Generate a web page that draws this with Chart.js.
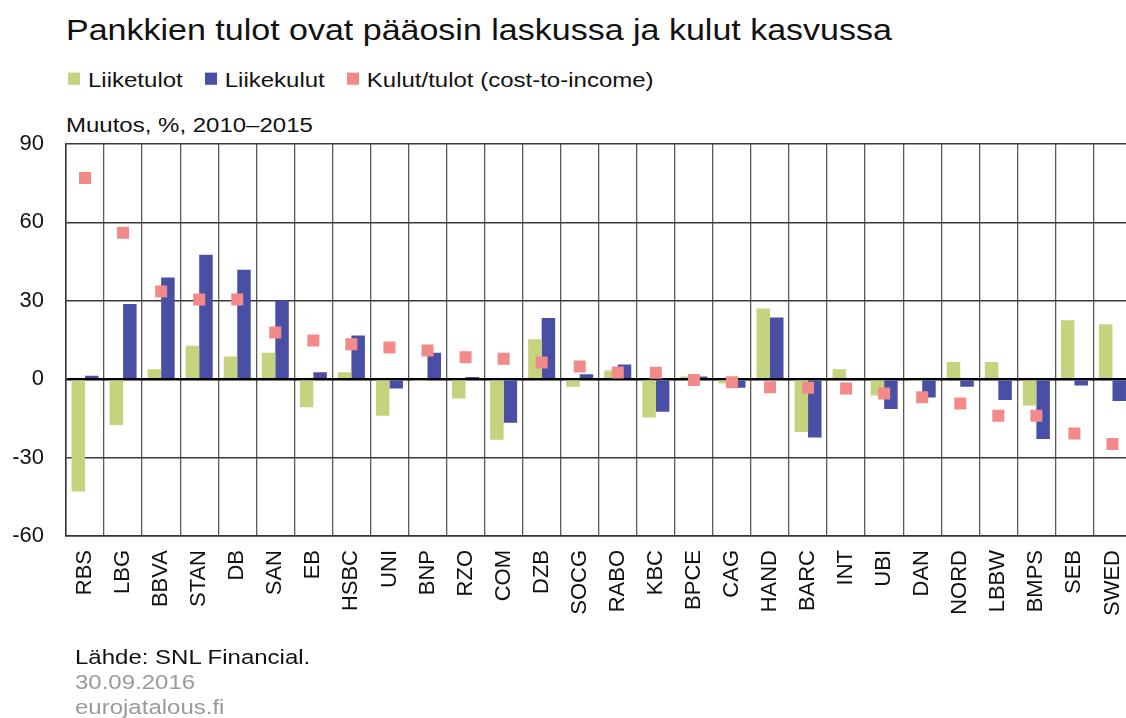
<!DOCTYPE html>
<html lang="fi">
<head>
<meta charset="utf-8">
<script src="https://cdn.jsdelivr.net/npm/chart.js@4.4.1/dist/chart.umd.min.js"></script>
<style>
  html, body { margin: 0; padding: 0; background: #fff; overflow: hidden; }
  body { width: 1126px; height: 718px; position: relative; font-family: "Liberation Sans", Arial, sans-serif; color: #111; }
  #chart { position: absolute; left: 0; top: 0; }
  .txt { position: absolute; white-space: nowrap; transform-origin: 0 0; }
  #title { left: 66px; top: 14px; font-size: 34px; line-height: 34px; transform: scaleY(0.88); }
  #legend { left: 68px; top: 70px; font-size: 24px; line-height: 24px; transform: scaleY(0.87); display: flex; align-items: flex-start; }
  #legend .item { display: flex; align-items: flex-start; margin-right: 22px; }
  #legend .box { width: 12px; height: 14px; margin-top: 3px; margin-right: 8px; }
  #unit { left: 66px; top: 115px; font-size: 24px; line-height: 24px; transform: scaleY(0.87); }
  #footer { left: 75px; top: 644px; font-size: 24px; line-height: 29px; transform: scaleY(0.87); }
  #footer .grey { color: #9a9a9a; }
</style>
</head>
<body>
<div id="title" class="txt">Pankkien tulot ovat pääosin laskussa ja kulut kasvussa</div>
<div id="legend" class="txt"></div>
<div id="unit" class="txt">Muutos, %, 2010–2015</div>
<canvas id="chart" width="1140" height="718"></canvas>
<div id="footer" class="txt">
  <div>Lähde: SNL Financial.</div>
  <div class="grey">30.09.2016</div>
  <div class="grey">eurojatalous.fi</div>
</div>

<script>
// Pankit (lyhenteet)
const banks = ["RBS", "LBG", "BBVA", "STAN", "DB", "SAN", "EB", "HSBC", "UNI", "BNP",
  "RZO", "COM", "DZB", "SOCG", "RABO", "KBC", "BPCE", "CAG", "HAND", "BARC",
  "INT", "UBI", "DAN", "NORD", "LBBW", "BMPS", "SEB", "SWED"];

// Muutos, %, 2010-2015 (luettu kuvasta)
const liiketulot = [-43, -17.5, 3.8, 12.8, 8.7, 10.1, -10.7, 2.7, -14, -0.7,
  -7.4, -23.2, 15.3, -2.9, 3.3, -14.7, 1, -1.6, 27.1, -20.2,
  3.8, -6.2, -0.3, 6.6, 6.6, -10.1, 22.6, 21];
const liikekulut = [1.3, 28.8, 38.9, 47.6, 41.9, 30.1, 2.7, 16.7, -3.6, 10.1,
  0.8, -16.7, 23.4, 1.9, 5.6, -12.5, 1, -3.3, 23.6, -22.3,
  0.5, -11.4, -7, -2.9, -8, -22.9, -2.4, -8.3];
const kulutTulot = [77, 56, 33.6, 30.5, 30.5, 17.9, 14.8, 13.4, 12.1, 11,
  8.4, 7.8, 6.4, 4.9, 2.6, 2.5, -0.3, -1.2, -3.1, -3.3,
  -3.6, -5.5, -6.9, -9.3, -14, -14, -20.8, -24.8];

const yTicks = [-60, -30, 0, 30, 60, 90];

const seriesNames = ["Liiketulot", "Liikekulut", "Kulut/tulot (cost-to-income)"];
const seriesColors = ["#c5d27e", "#4a4fa6", "#f28a8a"];

// Legend (HTML)
const legendEl = document.getElementById("legend");
seriesNames.forEach(function (name, i) {
  const item = document.createElement("div");
  item.className = "item";
  item.innerHTML = '<span class="box" style="background:' + seriesColors[i] + '"></span><span>' + name + '</span>';
  legendEl.appendChild(item);
});

const ctx = document.getElementById("chart").getContext("2d");
new Chart(ctx, {
  type: "bar",
  data: {
    labels: banks,
    datasets: [
      {
        type: "line",
        label: seriesNames[2],
        data: kulutTulot,
        showLine: false,
        pointStyle: "rect",
        pointRadius: 8.5,
        pointBorderWidth: 0,
        backgroundColor: seriesColors[2],
        borderColor: seriesColors[2],
        order: 0
      },
      {
        label: seriesNames[0],
        data: liiketulot,
        backgroundColor: seriesColors[0],
        borderWidth: 0,
        order: 1
      },
      {
        label: seriesNames[1],
        data: liikekulut,
        backgroundColor: seriesColors[1],
        borderWidth: 0,
        order: 1
      }
    ]
  },
  options: {
    responsive: false,
    animation: false,
    devicePixelRatio: 1,
    categoryPercentage: 0.71,
    barPercentage: 1,
    layout: { padding: { top: 144, left: 0, right: 4, bottom: 82 } },
    plugins: {
      legend: { display: false },
      title: { display: false },
      tooltip: { enabled: false }
    },
    scales: {
      x: {
        offset: true,
        grid: { offset: true, color: "#5a5a5a", lineWidth: 1.3, drawTicks: false },
        border: { display: true, color: "#333", width: 1.5 },
        ticks: {
          autoSkip: false,
          minRotation: 90,
          maxRotation: 90,
          padding: 14,
          color: "#111",
          font: { family: "'Liberation Sans', Arial, sans-serif", size: 22 }
        },
        afterFit: function (scale) {
          scale.height = 100;
          // plot runs past the right edge of the picture, like the original
          scale.paddingRight = 0;
        }
      },
      y: {
        min: -60,
        max: 90,
        afterBuildTicks: function (scale) {
          scale.ticks = yTicks.map(function (v) { return { value: v }; });
        },
        grid: {
          drawTicks: false,
          color: function (c) { return c.tick && c.tick.value === 0 ? "#000" : "#3a3a3a"; },
          lineWidth: function (c) { return c.tick && c.tick.value === 0 ? 2.4 : 1.4; }
        },
        border: { display: true, color: "#333", width: 1.5 },
        ticks: {
          padding: 22,
          color: "#111",
          font: { family: "'Liberation Sans', Arial, sans-serif", size: 22 }
        },
        afterFit: function (scale) { scale.width = 66; }
      }
    }
  }
});
</script>
</body>
</html>
